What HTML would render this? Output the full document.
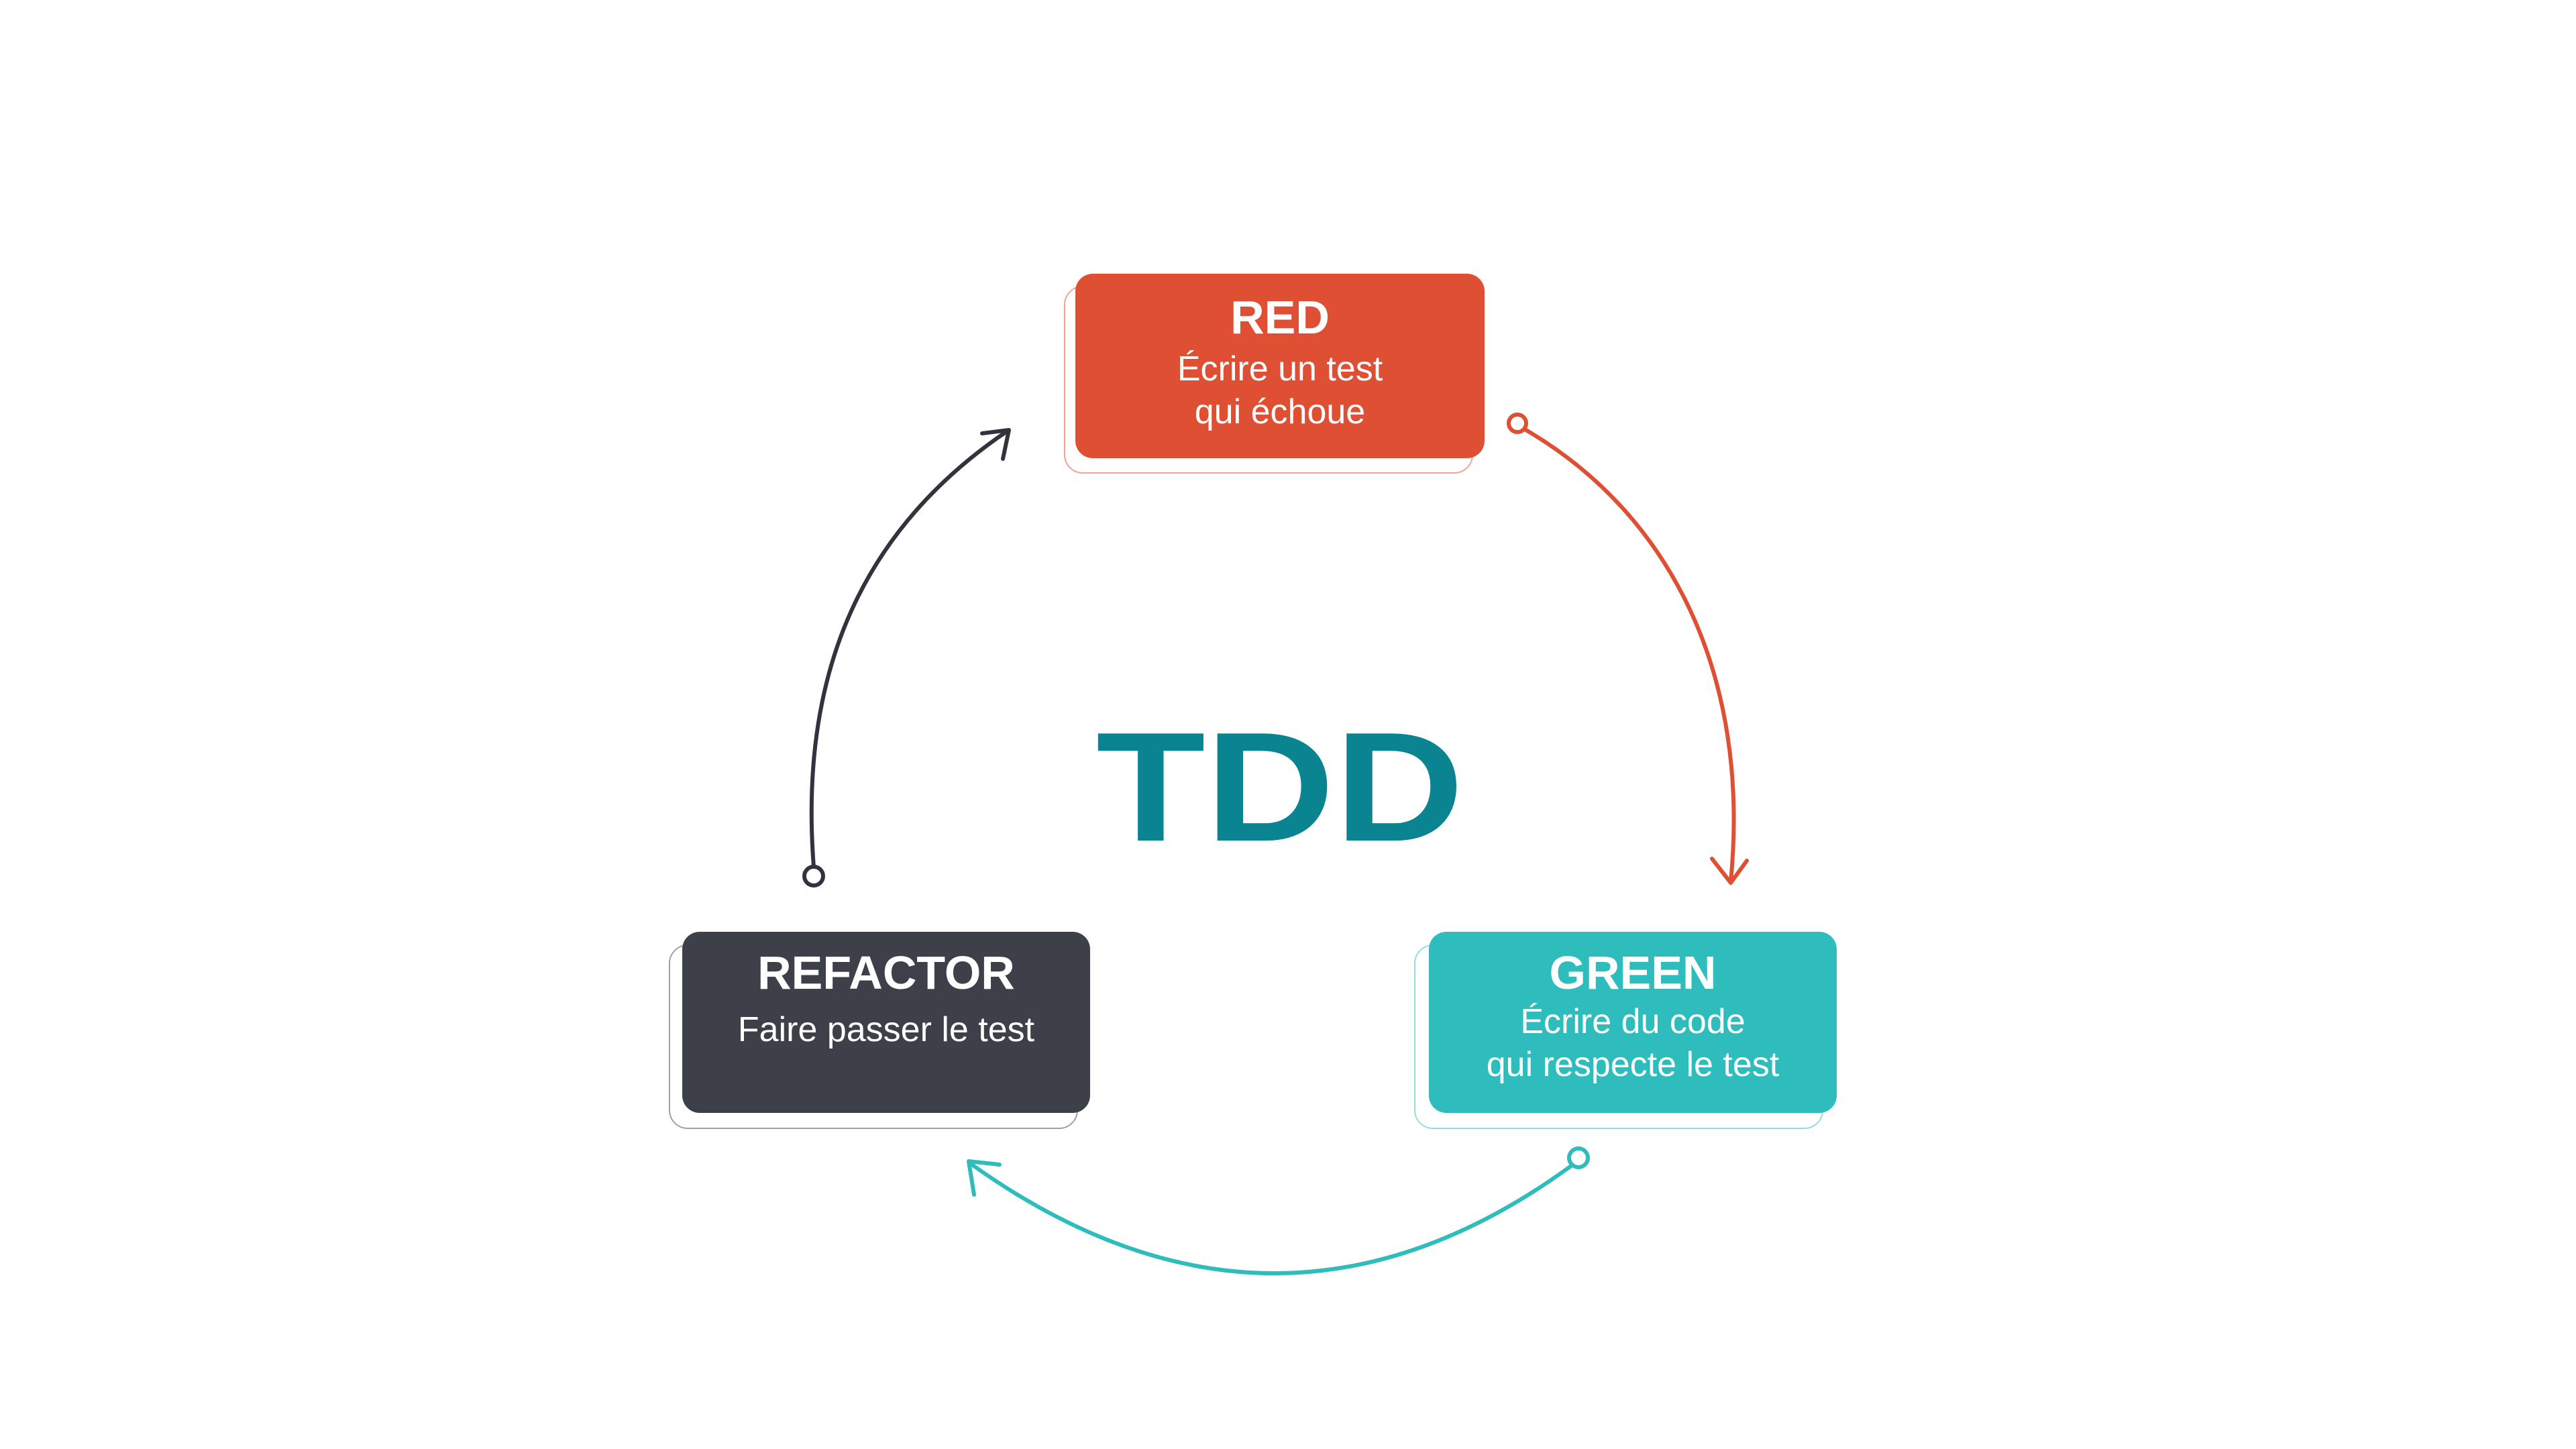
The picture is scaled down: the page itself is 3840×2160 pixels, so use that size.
<!DOCTYPE html>
<html><head><meta charset="utf-8"><style>
html,body{margin:0;padding:0;background:#fff}
body{width:3840px;height:2160px;position:relative;overflow:hidden;font-family:"Liberation Sans",sans-serif}
.box{position:absolute;border-radius:26px;color:#fff;text-align:center}
.sh{position:absolute;border-radius:28px;background:#fff}
.t{font-weight:bold;font-size:70px;line-height:1}
.s{font-size:52px;line-height:64px}
</style></head><body>
<svg width="3840" height="2160" style="position:absolute;left:0;top:0">
<g fill="none" stroke-width="6" stroke-linecap="round" stroke-linejoin="round" transform="translate(-10,-4)">
<path d="M2283,644 C2500,770 2620,1010 2590,1318" stroke="#de4f33"/>
<path d="M2562,1284 L2590,1320 L2614,1287" stroke="#de4f33"/>
<circle cx="2272" cy="635" r="13" stroke="#de4f33" fill="#fff"/>
<path d="M1223,1296 C1200,1000 1300,790 1511,647" stroke="#33333d"/>
<path d="M1474,650 L1514,645 L1505,688" stroke="#33333d"/>
<circle cx="1223" cy="1310" r="14" stroke="#33333d" fill="#fff"/>
<path d="M2352,1742 Q1910,2064 1456,1738" stroke="#2fbcbd"/>
<path d="M1500,1740 L1454,1735 L1462,1785" stroke="#2fbcbd"/>
<circle cx="2363" cy="1730" r="14" stroke="#2fbcbd" fill="#fff"/>
</g>
</svg>
<div class="sh" style="left:1586px;top:426px;width:606px;height:276px;border:2px solid #f0a594"></div>
<div class="box" style="left:1603px;top:408px;width:610px;height:275px;background:#de4f33">
<div class="t" style="margin-top:30px">RED</div>
<div class="s" style="margin-top:10px">Écrire un test<br>qui échoue</div></div>
<div class="sh" style="left:997px;top:1408px;width:606px;height:271px;border:2px solid #a0a0a6"></div>
<div class="box" style="left:1017px;top:1389px;width:608px;height:270px;background:#3e4049">
<div class="t" style="margin-top:26px">REFACTOR</div>
<div class="s" style="margin-top:18px">Faire passer le test</div></div>
<div class="sh" style="left:2108px;top:1408px;width:606px;height:271px;border:2px solid #9adcdc"></div>
<div class="box" style="left:2130px;top:1389px;width:608px;height:270px;background:#2fbcbd">
<div class="t" style="margin-top:26px">GREEN</div>
<div class="s" style="margin-top:6px">Écrire du code<br>qui respecte le test</div></div>
<div style="position:absolute;left:1400px;width:1016px;top:1058px;text-align:center;font-weight:bold;font-size:232px;line-height:1;color:#0a8491;transform:scaleX(1.15)">TDD</div>
</body></html>
